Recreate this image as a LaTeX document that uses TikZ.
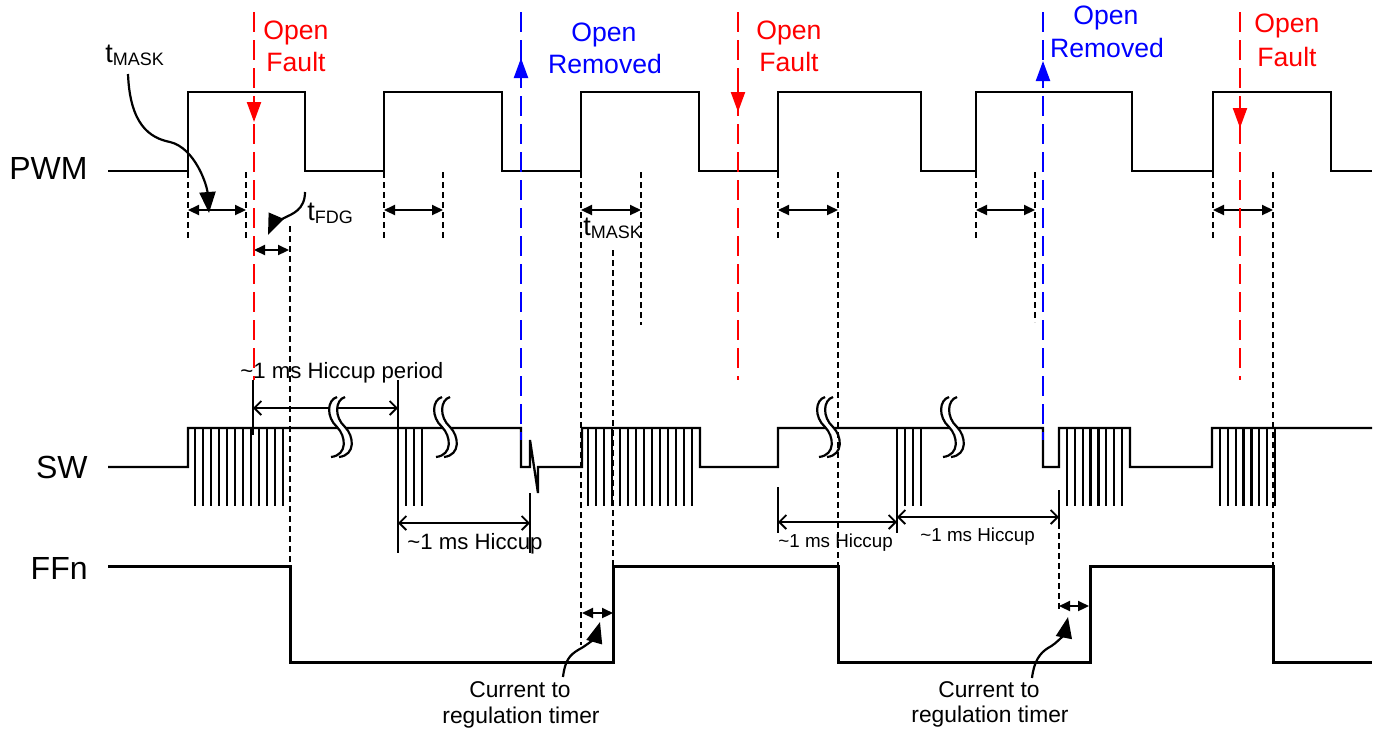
\documentclass[tikz,border=0pt]{standalone}
\usepackage{fontspec}
\setmainfont{Liberation Sans}
\usetikzlibrary{arrows.meta}
\newcommand{\tsb}[2]{#1\raisebox{-1.5pt}{\fontsize{9}{9}\selectfont #2}}
\newcommand{\brksym}[2]{%
  \begin{scope}[shift={(#1,#2)}]
    \fill[white] (1,-30) .. controls (-9,-27) and (-10,-10) .. (1,0) .. controls (10,9) and (12,28) .. (-5,30)
      -- (3,30) .. controls (20,28) and (18,9) .. (9,0) .. controls (-2,-10) and (-1,-27) .. (9,-30) -- cycle;
    \draw[line width=1.1pt] (1,-30) .. controls (-9,-27) and (-10,-10) .. (1,0) .. controls (10,9) and (12,28) .. (-5,30);
    \draw[line width=1.1pt] (9,-30) .. controls (-1,-27) and (-2,-10) .. (9,0) .. controls (18,9) and (20,28) .. (3,30);
  \end{scope}}
\tikzset{
  sig/.style={line width=1.15pt, line join=miter},
  ffsig/.style={line width=1.5pt, line join=miter},
  dots/.style={line width=0.95pt, dash pattern=on 3pt off 2pt},
  redline/.style={red, line width=1.1pt, dash pattern=on 10pt off 4pt},
  blueline/.style={blue, line width=1.1pt, dash pattern=on 10pt off 4pt},
  dimarr/.style={line width=1.1pt, {Triangle[length=5.5pt,width=5pt]}-{Triangle[length=5.5pt,width=5pt]}},
  hicarr/.style={line width=0.9pt, {Straight Barb[length=3.5pt,width=7pt]}-{Straight Barb[length=3.5pt,width=7pt]}},
  pointer/.style={line width=1.1pt, -{Triangle[length=10.5pt,width=8pt]}},
  evhead/.style={line width=1.1pt, -{Triangle[length=10pt,width=7pt]}},
  siglbl/.style={font=\fontsize{16}{16}\selectfont, anchor=base east, inner sep=0pt},
  evlbl/.style={font=\fontsize{13.3}{13.3}\selectfont, anchor=base, inner sep=0pt},
  hictxt/.style={font=\fontsize{11.1}{11.1}\selectfont, anchor=base west, inner sep=0pt},
  smallhic/.style={font=\fontsize{9.4}{9.4}\selectfont, anchor=base west, inner sep=0pt},
  tlbl/.style={font=\fontsize{13.5}{13.5}\selectfont, anchor=base west, inner sep=0pt},
  curtxt/.style={font=\fontsize{11.4}{11.4}\selectfont, anchor=base, inner sep=0pt},
}
\begin{document}
\begin{tikzpicture}[x=0.5pt,y=-0.5pt]
\useasboundingbox[fill=white] (0,0) rectangle (1378,730);

% signal labels
\node[siglbl] (lpwm) at (88,179) {PWM};
\node[siglbl] (lsw) at (88,478) {SW};
\node[siglbl] (lffn) at (88,579) {FFn};

% PWM
\draw[sig] (108,171) -- (188,171) -- (188,92) -- (305,92) -- (305,171) -- (384,171) -- (384,92)
  -- (502,92) -- (502,171) -- (581,171) -- (581,92) -- (699,92) -- (699,171) -- (778,171)
  -- (778,92) -- (921,92) -- (921,171) -- (976,171) -- (976,92) -- (1132,92) -- (1132,171)
  -- (1213,171) -- (1213,92) -- (1331,92) -- (1331,171) -- (1372,171);

% SW
\draw[sig] (108,467) -- (188,467) -- (188,428) -- (521,428) -- (521,467) -- (530,467) -- (530,440)
  -- (538,493) -- (538,467) -- (582,467) -- (582,428) -- (700,428) -- (700,467) -- (778,467)
  -- (778,428) -- (1043,428) -- (1043,467) -- (1059,467) -- (1059,428) -- (1130,428) -- (1130,467)
  -- (1212,467) -- (1212,428) -- (1372,428);
\foreach \k in {0,...,11} \draw[sig] ({195+8*\k},428) -- ({195+8*\k},506);
\foreach \xx in {406,414,422} \draw[sig] (\xx,428) -- (\xx,506);
\foreach \k in {0,...,13} \draw[sig] ({588+8*\k},428) -- ({588+8*\k},506);
\foreach \xx in {905,913,921} \draw[sig] (\xx,428) -- (\xx,506);
\foreach \k in {0,...,7} \draw[sig] ({1067+7.86*\k},428) -- ({1067+7.86*\k},506);
\foreach \k in {0,...,7} \draw[sig] ({1220+7.86*\k},428) -- ({1220+7.86*\k},506);

% FFn
\draw[ffsig] (108,566) -- (290,566) -- (290,662) -- (613,662) -- (613,566) -- (838,566) -- (838,662)
  -- (1090,662) -- (1090,566) -- (1273,566) -- (1273,662) -- (1372,662);

% hiccup ticks
\draw[sig] (253,380) -- (253,435);
\draw[sig] (398,380) -- (398,553);
\draw[sig] (530,493) -- (530,553);
\draw[sig] (778,487) -- (778,533);
\draw[sig] (897,428) -- (897,533);
\draw[sig] (1059,490) -- (1059,523);

% hiccup arrows
\coordinate (hp1) at (253,408); \coordinate (hp2) at (398,408);
\draw[hicarr] (hp1) -- (hp2);
\coordinate (h1a) at (398,523); \coordinate (h1b) at (530,523);
\draw[hicarr] (h1a) -- (h1b);
\coordinate (h2a) at (778,522); \coordinate (h2b) at (897,522);
\draw[hicarr] (h2a) -- (h2b);
\coordinate (h3a) at (897,517); \coordinate (h3b) at (1059,517);
\draw[hicarr] (h3a) -- (h3b);

\node[hictxt] (thp) at (240,378) {\textasciitilde 1 ms Hiccup period};
\node[hictxt] (th1) at (407,549) {\textasciitilde 1 ms Hiccup};
\node[smallhic] (th2) at (778,547) {\textasciitilde 1 ms Hiccup};
\node[smallhic] (th3) at (920,541) {\textasciitilde 1 ms Hiccup};

% break symbols
\brksym{336}{427}
\brksym{441}{427}
\brksym{824}{427}
\brksym{948}{427}

% dotted guide lines
\foreach \xx/\ya/\yb in {188/172/240, 246/172/240, 290/226/566, 384/172/240, 443/172/240,
  581/172/645, 613/250/566, 641/172/325, 778/172/240, 838/172/566, 976/172/240,
  1035/172/322, 1059/523/610, 1213/172/240, 1273/172/566}
  \draw[dots] (\xx,\ya) -- (\xx,\yb);

% mask arrows
\foreach \xa/\xb in {188/246, 384/443, 581/641, 778/838, 976/1035, 1213/1273}
  \draw[dimarr] (\xa,210) -- (\xb,210);
\coordinate (fdga) at (254,250); \coordinate (fdgb) at (289,250);
\draw[dimarr] (fdga) -- (fdgb);
\coordinate (cta) at (582,613); \coordinate (ctb) at (613,613);
\draw[dimarr] (cta) -- (ctb);
\coordinate (ctc) at (1059,606); \coordinate (ctd) at (1089,606);
\draw[dimarr] (ctc) -- (ctd);

% t labels
\node[tlbl] (tmask1) at (105,62) {\tsb{t}{MASK}};
\node[tlbl] (tfdg) at (307,220) {\tsb{t}{FDG}};
\node[tlbl] (tmask2) at (583,235) {\tsb{t}{MASK}};

\draw[pointer] (128,74) .. controls (130,125) and (150,138) .. (170,142) .. controls (195,148) and (207,185) .. (209,213);
\draw[pointer] (305,192) .. controls (305,210) and (292,214) .. (284,218) .. controls (276,222) and (271,228) .. (268,235);

% current to regulation timer
\node[curtxt] (cur1a) at (520,697) {Current to};
\node[curtxt] (cur1b) at (521,723) {regulation timer};
\node[curtxt] (cur2a) at (989,697) {Current to};
\node[curtxt] (cur2b) at (990,722) {regulation timer};
\draw[pointer] (563,677) .. controls (565,660) and (570,655) .. (578,650) .. controls (588,645) and (596,636) .. (600,622);
\draw[pointer] (1032,678) .. controls (1034,661) and (1040,653) .. (1048,648) .. controls (1058,643) and (1065,632) .. (1068,617);

% fault / removed event lines
\draw[redline] (254,12) -- (254,380);
\draw[red, evhead] (254,96) -- (254,122);
\draw[redline] (738,12) -- (738,380);
\draw[red, evhead] (738,86) -- (738,112);
\draw[redline] (1240,12) -- (1240,380);
\draw[red, evhead] (1240,102) -- (1240,128);
\draw[blueline] (521,12) -- (521,440);
\draw[blue, evhead] (521,84) -- (521,58);
\draw[blueline] (1043,12) -- (1043,440);
\draw[blue, evhead] (1043,88) -- (1043,61);

\node[evlbl, red] (of1a) at (296,39) {Open};
\node[evlbl, red] (of1b) at (296,71) {Fault};
\node[evlbl, red] (of2a) at (789,39) {Open};
\node[evlbl, red] (of2b) at (789,71) {Fault};
\node[evlbl, red] (of3a) at (1287,32) {Open};
\node[evlbl, red] (of3b) at (1287,66) {Fault};
\node[evlbl, blue] (or1a) at (604,41) {Open};
\node[evlbl, blue] (or1b) at (605,73) {Removed};
\node[evlbl, blue] (or2a) at (1106,24) {Open};
\node[evlbl, blue] (or2b) at (1107,57) {Removed};
\end{tikzpicture}
\end{document}
